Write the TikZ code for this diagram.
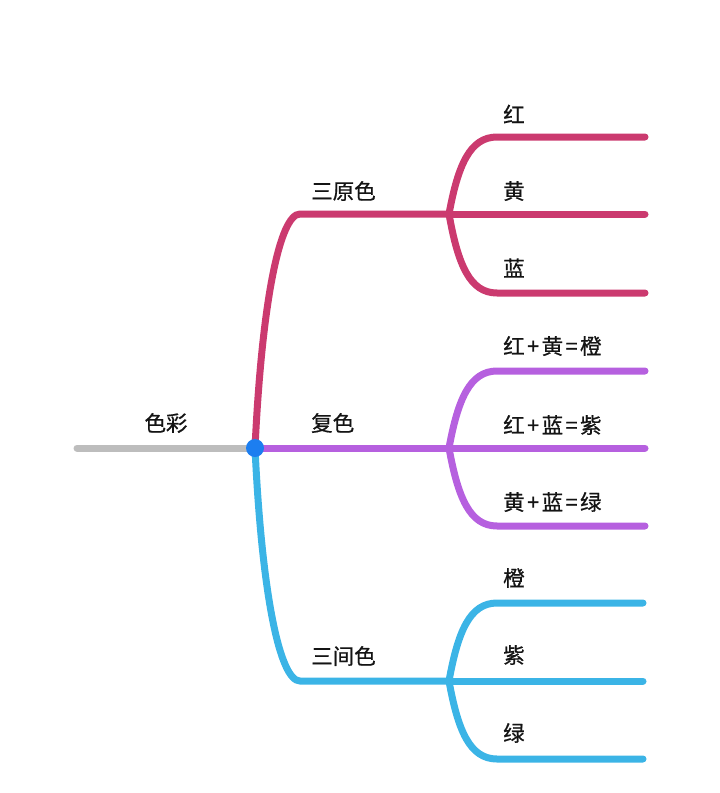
\documentclass[tikz,border=0pt]{standalone}
\usepackage{fontspec}
\usepackage{xcolor}
\newfontfamily\cjk[FakeBold=0.7]{Noto Sans CJK SC}
\definecolor{rootgray}{HTML}{BDBDBD}
\definecolor{rootdot}{HTML}{1C7EF0}
\definecolor{primred}{HTML}{CB3A6F}
\definecolor{mixpurple}{HTML}{B660DF}
\definecolor{tertblue}{HTML}{3BB4E6}
\newcommand{\pl}{\kern2.5pt+\kern2.5pt}
\newcommand{\eq}{\kern2.5pt=\kern2.5pt}

\begin{document}
\begin{tikzpicture}[
    x=1pt, y=-1pt,
    branch/.style={line width=7pt, line cap=round},
    lbl/.style={font=\cjk\fontsize{21.5}{26}\selectfont, text=black!92, inner sep=0pt, anchor=west}
]
    \useasboundingbox (0,0) rectangle (720,793);

    % root
    \coordinate (start) at (77,448);
    \coordinate (root) at (255,448);
    \draw[branch, rootgray] (start) -- (root);
    \node[lbl, anchor=center] (rootlbl) at (166,423) {色彩};

    % fork points
    \coordinate (forkA) at (449,214);
    \coordinate (forkB) at (449,448);
    \coordinate (forkC) at (449,681);

    % three main branches
    \draw[branch, primred] (root) .. controls (262,300) and (280,214) .. (300,214) -- (forkA);
    \draw[branch, tertblue] (root) .. controls (262,596) and (280,681) .. (300,681) -- (forkC);
    \draw[branch, mixpurple] (root) -- (forkB);

    \node[lbl] (primary) at (311,191) {三原色};
    \node[lbl] (mixed) at (311,423) {复色};
    \node[lbl] (tertiary) at (311,656) {三间色};

    % leaves: red
    \coordinate (endA1) at (645,137);
    \coordinate (endA2) at (645,214);
    \coordinate (endA3) at (645,293);
    \draw[branch, primred] (forkA) .. controls (458,165) and (470,137) .. (497,137) -- (endA1);
    \draw[branch, primred] (forkA) -- (endA2);
    \draw[branch, primred] (forkA) .. controls (458,265) and (470,293) .. (497,293) -- (endA3);
    \node[lbl] (red) at (503,114) {红};
    \node[lbl] (yellow) at (503,191) {黄};
    \node[lbl] (blue) at (503,268) {蓝};

    % leaves: purple
    \coordinate (endB1) at (645,371);
    \coordinate (endB2) at (645,448);
    \coordinate (endB3) at (645,526);
    \draw[branch, mixpurple] (forkB) .. controls (458,399) and (470,371) .. (497,371) -- (endB1);
    \draw[branch, mixpurple] (forkB) -- (endB2);
    \draw[branch, mixpurple] (forkB) .. controls (458,498) and (470,526) .. (497,526) -- (endB3);
    \node[lbl] (orangemix) at (503,346) {红\pl 黄\eq 橙};
    \node[lbl] (purplemix) at (503,425) {红\pl 蓝\eq 紫};
    \node[lbl] (greenmix) at (503,502) {黄\pl 蓝\eq 绿};

    % leaves: blue
    \coordinate (endC1) at (643,603);
    \coordinate (endC2) at (643,681);
    \coordinate (endC3) at (643,759);
    \draw[branch, tertblue] (forkC) .. controls (458,631) and (470,603) .. (497,603) -- (endC1);
    \draw[branch, tertblue] (forkC) -- (endC2);
    \draw[branch, tertblue] (forkC) .. controls (458,731) and (470,759) .. (497,759) -- (endC3);
    \node[lbl] (orange) at (503,578) {橙};
    \node[lbl] (purple) at (503,655) {紫};
    \node[lbl] (green) at (503,733) {绿};

    \fill[rootdot] (root) circle (9);
\end{tikzpicture}
\end{document}
